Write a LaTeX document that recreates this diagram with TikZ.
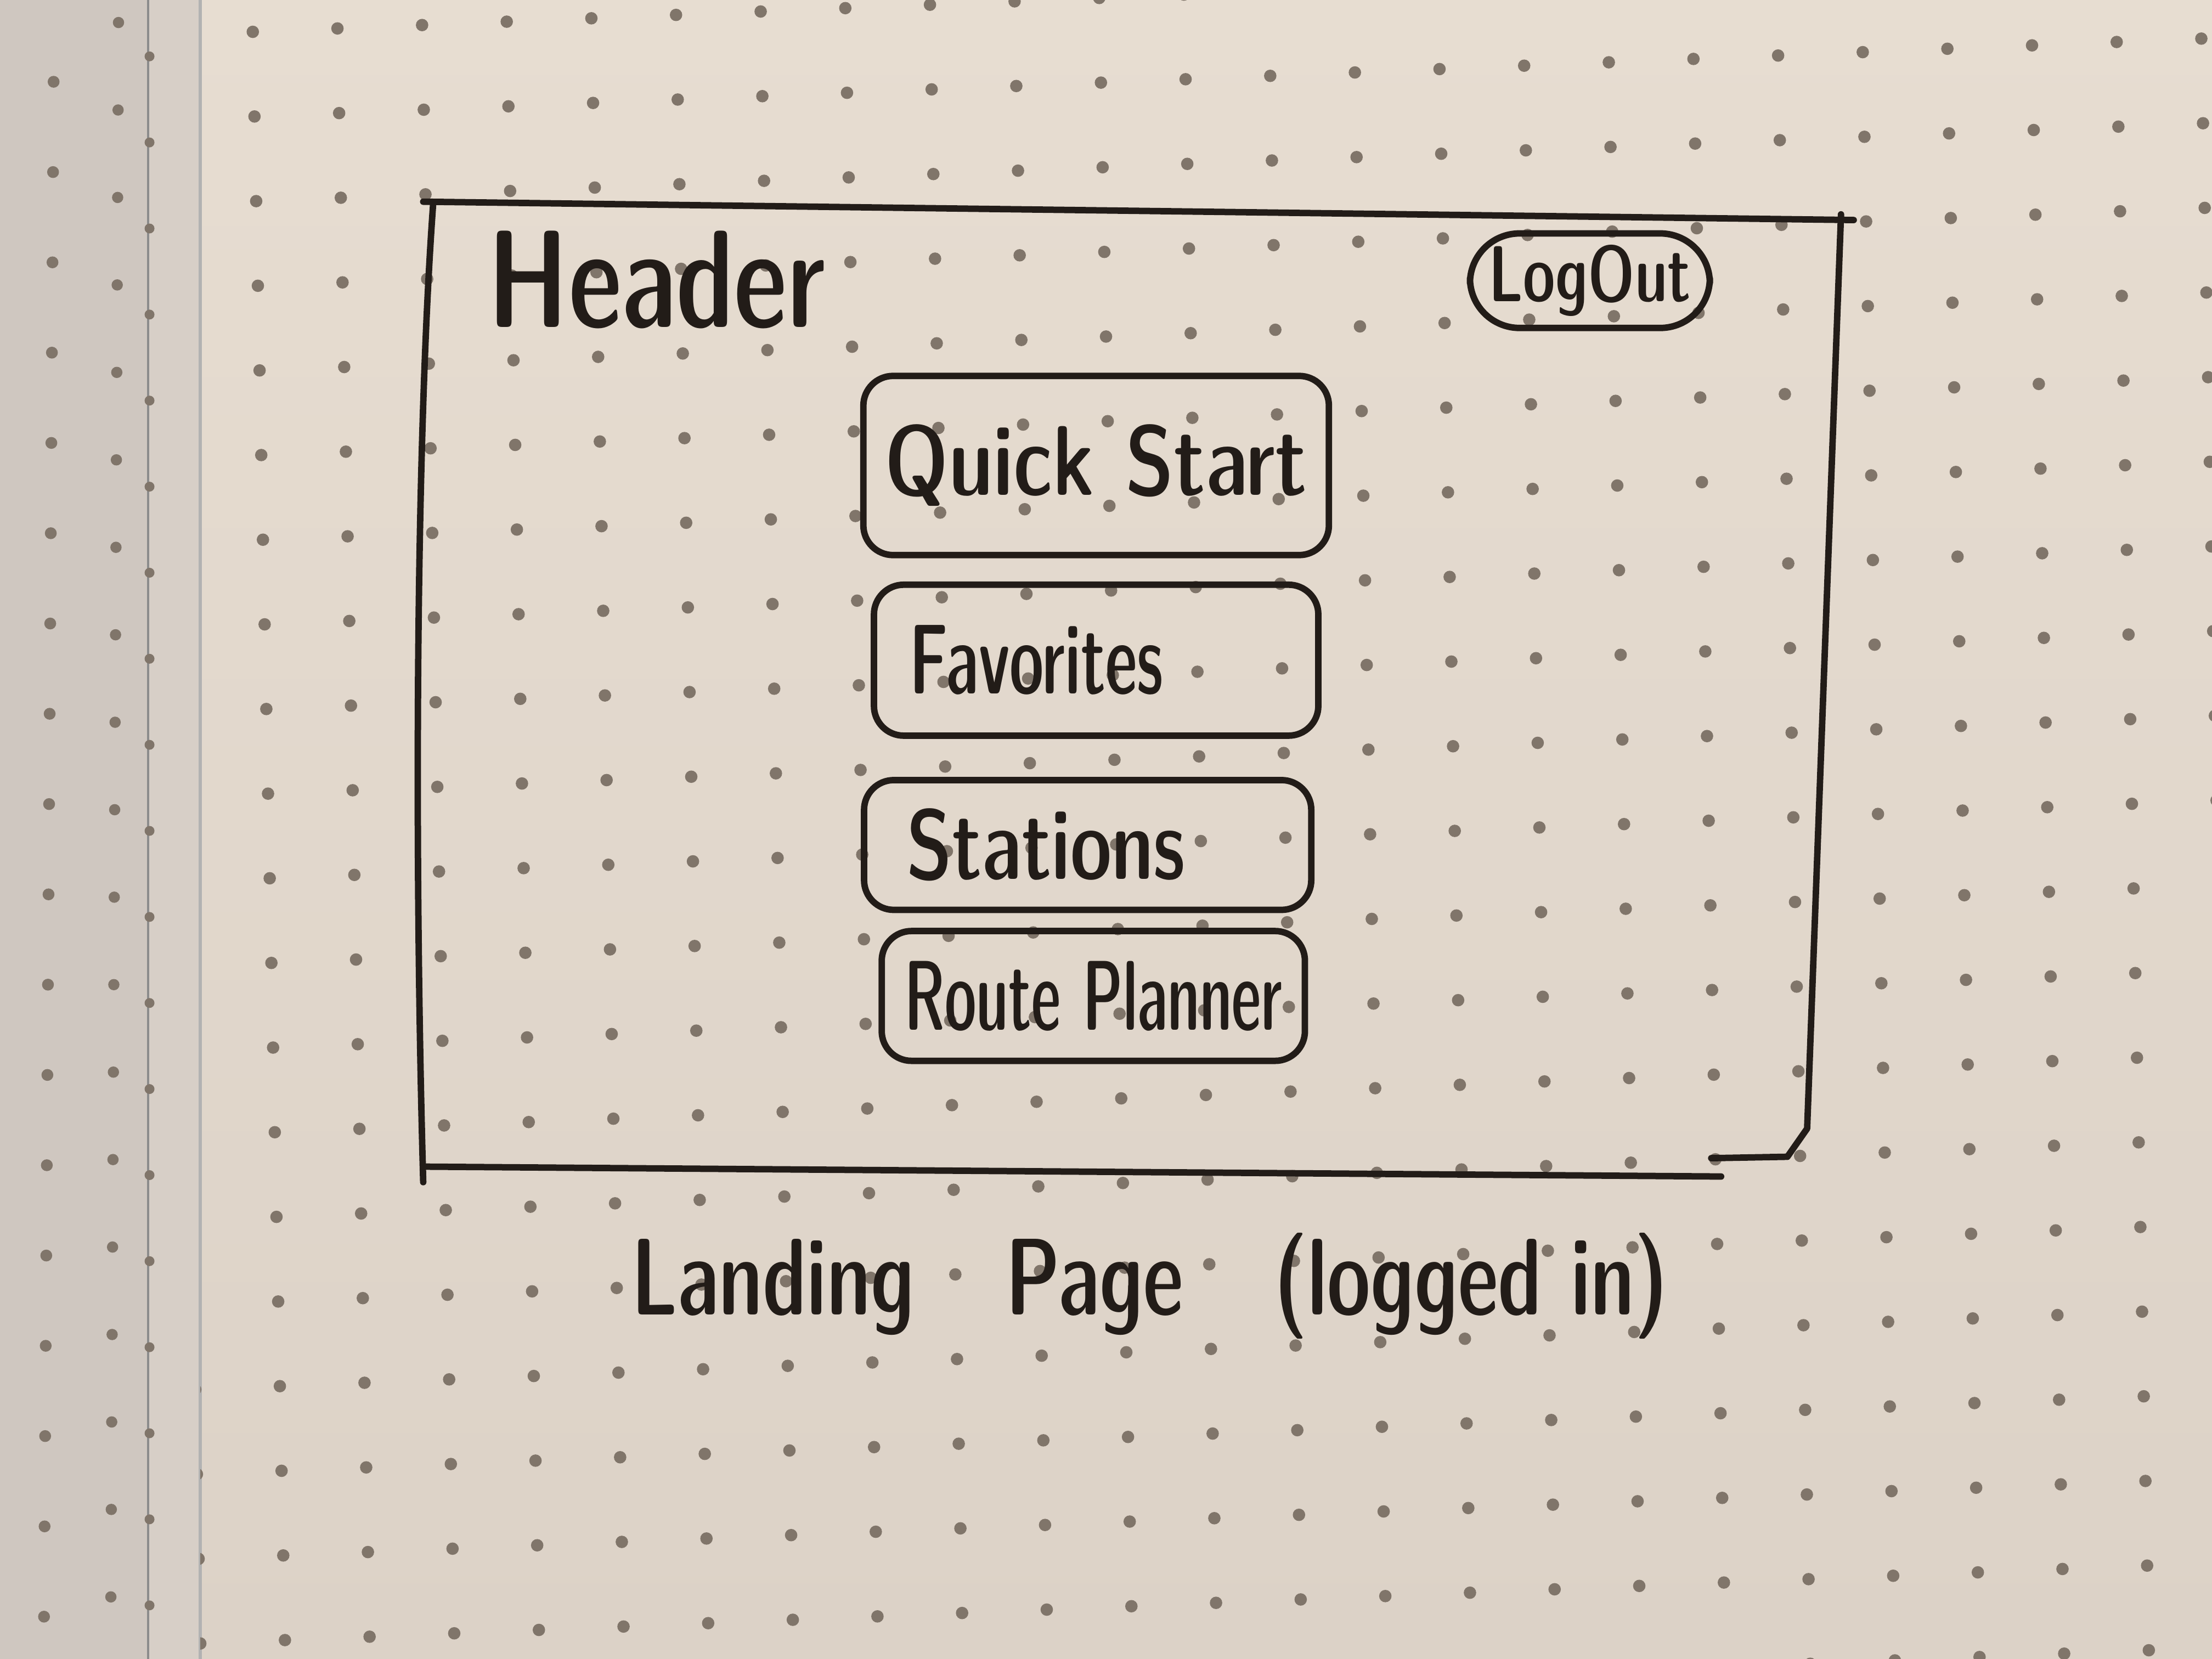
\documentclass[tikz,border=0pt]{standalone}
\usepackage{graphicx}

\definecolor{paper}{RGB}{231,221,209}
\definecolor{paperdark}{RGB}{220,210,199}
\definecolor{leftpage}{RGB}{207,199,192}
\definecolor{gutter}{RGB}{215,207,199}
\definecolor{dotgrey}{RGB}{128,117,106}
\definecolor{ink}{RGB}{34,28,24}

\newcommand{\narrow}[2][0.8]{\scalebox{#1}[1]{#2}}

\tikzset{
  pen/.style={ink, line width=1.3pt, line cap=round, line join=round},
  hand/.style={text=ink, inner sep=0pt, font=\sffamily\fontseries{sbc}\fontsize{#1}{#1}\selectfont},
  button/.style={pen, draw, rounded corners=6pt, inner xsep=0.25cm, inner ysep=0pt,
    align=left, text=ink, font=\sffamily\fontseries{sbc}\fontsize{20}{20}\selectfont},
}

\begin{document}
\begin{tikzpicture}
  \useasboundingbox (0,0) rectangle (15.68,11.76);
  % paper
  \fill[leftpage] (0,0) rectangle (1.05,11.76);
  \fill[gutter] (1.05,0) rectangle (1.42,11.76);
  \shade[top color=paper, bottom color=paperdark] (1.42,0) rectangle (15.68,11.76);
  \draw[black!45, line width=0.4pt] (1.05,0) -- (1.05,11.76);
  \draw[black!30, line width=0.6pt] (1.42,0) -- (1.42,11.76);
  % dots
  \begin{scope}
    \clip (1.42,0) rectangle (15.68,11.76);
    \foreach \i in {-21,...,4}
      \foreach \k in {-14,...,6}
        \fill[dotgrey] ({13.36+0.60*\i+0.012*\k},{3.59+0.024*\i-0.60*\k}) circle (0.044);
  \end{scope}
  \foreach \k in {0,...,18} {
    \fill[dotgrey] ({0.38-0.004*\k},{11.18-0.64*\k}) circle (0.042);
    \fill[dotgrey] ({0.84-0.003*\k},{11.60-0.62*\k}) circle (0.04);
    \fill[dotgrey] (1.06,{11.36-0.61*\k}) circle (0.035);
  }

  % page frame
  \draw[pen] (3.00,10.33) -- (13.14,10.20);
  \draw[pen] (3.07,10.31) .. controls (2.94,8.50) and (2.94,5.50) .. (3.00,3.38);
  \draw[pen] (3.00,3.49) -- (12.20,3.42);
  \draw[pen] (12.13,3.55) -- (12.67,3.56) -- (12.81,3.76) -- (13.05,10.24);

  \node[hand=28, anchor=base west] (header) at (3.45,9.44) {\narrow[0.865]{Header}};
  \node[button, align=center, inner xsep=0.10cm, text width=1.50cm, minimum height=0.67cm, rounded corners=10pt,
    font=\sffamily\fontseries{sbc}\fontsize{16}{16}\selectfont] (logout) at (11.27,9.77) {\narrow[0.85]{LogOut}};

  % menu buttons
  \node[button, inner xsep=0.15cm, text width=3.00cm, minimum height=1.27cm] (quick) at (7.77,8.46) {\narrow[0.93]{Quick Start}};
  \node[button, text width=2.65cm, minimum height=1.07cm] (favorites) at (7.77,7.08) {\narrow[0.725]{Favorites}};
  \node[button, inner xsep=0.30cm, text width=2.57cm, minimum height=0.92cm] (stations) at (7.71,5.77) {\narrow[0.875]{Stations}};
  \node[button, align=center, inner xsep=0.15cm, text width=2.70cm, minimum height=0.92cm] (route) at (7.75,4.70) {\narrow[0.67]{Route Planner}};

  \node[hand=22, anchor=base] (caption) at (8.15,2.44) {\narrow[0.833]{Landing\quad Page\quad (logged in)}};
\end{tikzpicture}
\end{document}
